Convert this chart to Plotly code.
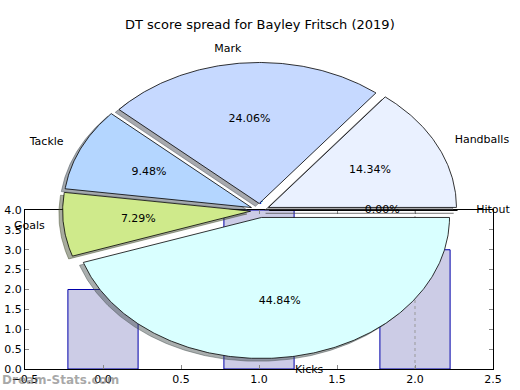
import numpy as np
import plotly.graph_objects as go

W, H = 520, 390

title_text = "DT score spread for Bayley Fritsch (2019)"

pie_labels = ["Handballs", "Mark", "Tackle", "Goals", "Kicks", "Hitout"]
pie_pcts = [14.34, 24.06, 9.48, 7.29, 44.84, 0.00]
pie_colors = ["#EAF1FF", "#C6D9FF", "#B4D6FF", "#CFEA8B", "#D9FFFF", "#FFFFFF"]

bar_x = [0, 1, 2]
bar_y = [2, 4, 3]

xtick_vals = [-0.5, 0.0, 0.5, 1.0, 1.5, 2.0, 2.5]
xtick_text = ["\u22120.5", "0.0", "0.5", "1.0", "1.5", "2.0", "2.5"]
ytick_vals = [0.0, 0.5, 1.0, 1.5, 2.0, 2.5, 3.0, 3.5, 4.0]
ytick_text = ["0.0", "0.5", "1.0", "1.5", "2.0", "2.5", "3.0", "3.5", "4.0"]

marker_line_x = [2, 2]
marker_line_y = [0, 4]

# layout geometry (pixels)
CX, CY, RX, RY = 260.0, 210.5, 188.0, 141.0
EXPLODE = 0.05
SH = -0.02
FONT = "DejaVu Sans"

fig = go.Figure()

# ---- bar chart (bottom axes) ----
fig.add_trace(go.Bar(
    x=bar_x, y=bar_y, width=0.45,
    marker=dict(color="#CCCCE6", line=dict(color="#0000AA", width=1)),
    text=[str(v) for v in bar_y], textposition="outside",
    textfont=dict(family=FONT, size=12, color="#0000AA"),
    cliponaxis=False, hoverinfo="skip", xaxis="x", yaxis="y"))
fig.add_trace(go.Scatter(
    x=marker_line_x, y=marker_line_y, mode="lines",
    line=dict(color="#999999", width=1, dash="dot"),
    hoverinfo="skip", xaxis="x", yaxis="y"))

# ---- pie drawn as elliptical wedges ----
total = sum(pie_pcts)
wedges = []
cum = 0.0
for lab, v, col in zip(pie_labels, pie_pcts, pie_colors):
    t1 = 360.0 * cum / total
    t2 = 360.0 * (cum + v) / total
    cum += v
    tm = np.deg2rad((t1 + t2) / 2)
    ox, oy = EXPLODE * np.cos(tm), EXPLODE * np.sin(tm)
    n = max(2, int(abs(t2 - t1) * 2))
    th = np.deg2rad(np.linspace(t1, t2, n))
    xs = np.concatenate([[ox], ox + np.cos(th), [ox]])
    ys = np.concatenate([[oy], oy + np.sin(th), [oy]])
    wedges.append((lab, v, col, xs, ys, tm, ox, oy))

def rgb(h):
    h = h.lstrip("#")
    return [int(h[i:i + 2], 16) for i in (0, 2, 4)]

for lab, v, col, xs, ys, tm, ox, oy in wedges:
    r, g, b = [int(c * 0.3) for c in rgb(col)]
    sc = f"rgba({r},{g},{b},0.45)"
    fig.add_trace(go.Scatter(
        x=xs + SH, y=ys + SH, mode="lines", fill="toself", fillcolor=sc,
        line=dict(color=sc, width=1), hoverinfo="skip",
        xaxis="x2", yaxis="y2"))

for lab, v, col, xs, ys, tm, ox, oy in wedges:
    fig.add_trace(go.Scatter(
        x=xs, y=ys, mode="lines", fill="toself", fillcolor=col,
        line=dict(color="black", width=0.8), hoverinfo="skip",
        xaxis="x2", yaxis="y2"))

lx, ly, lpos, ltxt = [], [], [], []
px, py, ptxt = [], [], []
for lab, v, col, xs, ys, tm, ox, oy in wedges:
    x = ox + 1.1 * np.cos(tm)
    y = oy + 1.1 * np.sin(tm)
    lx.append(x); ly.append(y); ltxt.append(lab)
    lpos.append("middle right" if x > 0 else "middle left")
    px.append(ox + 0.6 * np.cos(tm)); py.append(oy + 0.6 * np.sin(tm))
    ptxt.append(f"{v:.2f}%")

fig.add_trace(go.Scatter(
    x=lx, y=ly, mode="text", text=ltxt, textposition=lpos,
    textfont=dict(family=FONT, size=11, color="black"),
    hoverinfo="skip", cliponaxis=False, xaxis="x2", yaxis="y2"))
fig.add_trace(go.Scatter(
    x=px, y=py, mode="text", text=ptxt, textposition="middle center",
    textfont=dict(family=FONT, size=11, color="black"),
    hoverinfo="skip", cliponaxis=False, xaxis="x2", yaxis="y2"))

axfont = dict(family=FONT, size=11, color="black")
fig.update_layout(
    template="none",
    width=W, height=H, margin=dict(l=0, r=0, t=0, b=0, pad=0, autoexpand=False),
    paper_bgcolor="white", plot_bgcolor="rgba(0,0,0,0)", showlegend=False,
    xaxis=dict(domain=[25 / W, 493 / W], range=[-0.5, 2.5],
               tickvals=xtick_vals, ticktext=xtick_text, tickfont=axfont,
               ticks="inside", ticklen=4, tickcolor="#888888",
               showline=True, linecolor="black", linewidth=1, mirror="ticks",
               showgrid=False, zeroline=False, fixedrange=True, anchor="y",
               automargin=False),
    yaxis=dict(domain=[1 - 369 / H, 1 - 210 / H], range=[0, 4],
               tickvals=ytick_vals, ticktext=ytick_text, tickfont=axfont,
               ticks="inside", ticklen=4, tickcolor="#888888",
               showline=True, linecolor="black", linewidth=1, mirror="ticks",
               showgrid=False, zeroline=False, fixedrange=True, anchor="x",
               automargin=False),
    xaxis2=dict(domain=[0, 1], range=[-CX / RX, (W - CX) / RX],
                visible=False, fixedrange=True, anchor="y2", automargin=False),
    yaxis2=dict(domain=[0, 1], range=[(CY - H) / RY, CY / RY],
                visible=False, fixedrange=True, anchor="x2", automargin=False),
    annotations=[
        dict(text=title_text, x=0.5, y=1 - 25 / H, xref="paper", yref="paper",
             xanchor="center", yanchor="middle", showarrow=False,
             font=dict(family=FONT, size=13, color="black")),
        dict(text="<b>Dream-Stats.com</b>", x=0, y=1 - 380 / H,
             xref="paper", yref="paper", xanchor="left", yanchor="middle",
             showarrow=False,
             font=dict(family=FONT, size=12, color="rgba(110,110,110,0.6)")),
    ],
)

fig.write_html(
    "out.html",
    config={"displayModeBar": False, "staticPlot": True},
    post_script="document.body.style.margin='0';document.body.style.padding='0';",
)
